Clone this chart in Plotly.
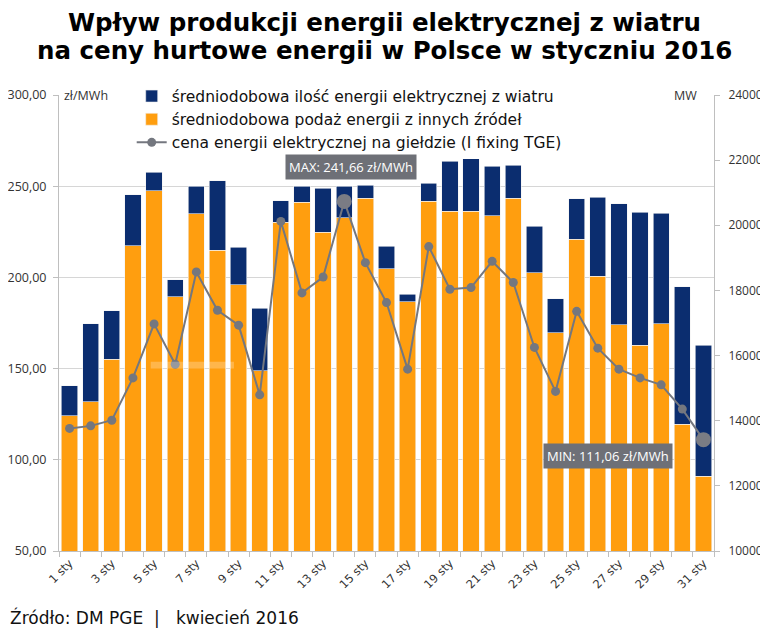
import plotly.graph_objects as go

# ---- data ----
days = list(range(1, 32))
tick_days = [1, 3, 5, 7, 9, 11, 13, 15, 17, 19, 21, 23, 25, 27, 29, 31]
tick_labels = ["1 sty", "3 sty", "5 sty", "7 sty", "9 sty", "11 sty", "13 sty", "15 sty",
               "17 sty", "19 sty", "21 sty", "23 sty", "25 sty", "27 sty", "29 sty", "31 sty"]

other_mw = [14149, 14579, 15888, 19375, 21062, 17799, 20357, 19240, 18167, 15529,
            20099, 20703, 19792, 20234, 20826, 18670, 17646, 20743, 20436, 20436,
            20295, 20826, 18547, 16695, 19578, 18443, 16940, 16318, 16971, 13895, 12300]
wind_mw = [920, 2392, 1482, 1564, 571, 534, 846, 2129, 1165, 1923,
           656, 500, 1350, 969, 408, 684, 236, 552, 1525, 1657,
           1522, 1012, 1430, 1055, 1239, 2423, 3723, 4088, 3404, 4223, 4018]
price = [117.2, 118.6, 121.7, 144.9, 174.5, 152.4, 203.0, 182.0, 173.8, 135.6,
         230.7, 191.5, 200.2, 241.66, 208.1, 186.2, 149.7, 216.9, 193.5, 194.4,
         208.8, 197.2, 161.6, 137.5, 181.4, 161.2, 149.7, 144.9, 141.1, 127.8, 111.06]

title_lines = ["Wpływ produkcji energii elektrycznej z wiatru",
               "na ceny hurtowe energii w Polsce w styczniu 2016"]
source_text = "Źródło: DM PGE &nbsp;| &nbsp; kwiecień 2016"

ORANGE = "#FF9E0F"
NAVY = "#0B2D6F"
GREY_LINE = "#74777F"
AXIS = "#BFBFBF"
TXT = "#333333"

imax = price.index(max(price))
imin = price.index(min(price))

fig = go.Figure()
fig.add_trace(go.Bar(
    x=days, y=other_mw, name="średniodobowa podaż energii z innych źródeł",
    marker=dict(color=ORANGE, line=dict(width=0.6, color="#F2F2F2")),
    yaxis="y", legendrank=2))
fig.add_trace(go.Bar(
    x=days, y=wind_mw, name="średniodobowa ilość energii elektrycznej z wiatru",
    marker=dict(color=NAVY, line=dict(width=0.6, color="#F2F2F2")),
    yaxis="y", legendrank=1))
fig.add_trace(go.Scatter(
    x=days, y=price, name="cena energii elektrycznej na giełdzie (I fixing TGE)",
    mode="lines+markers", line=dict(color=GREY_LINE, width=2),
    marker=dict(color=GREY_LINE, size=9), yaxis="y2", legendrank=3))
fig.add_trace(go.Scatter(
    x=[days[imax], days[imin]], y=[price[imax], price[imin]],
    mode="markers", marker=dict(color="#7A7C84", size=15),
    yaxis="y2", showlegend=False, hoverinfo="skip"))

def fmt(v):
    return f"{v:.2f}".replace(".", ",")

box = dict(showarrow=False, bgcolor="#6E7077", borderpad=3,
           font=dict(family="Open Sans", size=13, color="white"))
fig.add_annotation(x=days[imax], y=price[imax], xref="x", yref="y2",
                   text=f"MAX: {fmt(price[imax])} zł/MWh", xshift=7, yshift=34, **box)
fig.add_annotation(x=days[imin], y=price[imin], xref="x", yref="y2",
                   text=f"MIN: {fmt(price[imin])} zł/MWh", xshift=-95, yshift=-16, **box)

# title (two centred lines)
for txt, yp in zip(title_lines, [1.1588, 1.0975]):
    fig.add_annotation(x=0.4977, y=yp, xref="paper", yref="paper", xanchor="center", yanchor="middle",
                       text=f"<b>{txt}</b>", showarrow=False,
                       font=dict(family="DejaVu Sans", size=24.5, color="black"))

# axis unit labels
fig.add_annotation(x=0.005, y=1.0, xref="paper", yref="paper", xanchor="left", yanchor="middle",
                   text="zł/MWh", showarrow=False, bgcolor="white",
                   font=dict(family="Open Sans", size=12.5, color=TXT))
fig.add_annotation(x=0.977, y=1.0, xref="paper", yref="paper", xanchor="right", yanchor="middle",
                   text="MW", showarrow=False, bgcolor="white",
                   font=dict(family="Open Sans", size=12.5, color=TXT))

# source line
fig.add_annotation(x=-0.0779, y=-0.1468, xref="paper", yref="paper", xanchor="left", yanchor="middle",
                   text=source_text, showarrow=False,
                   font=dict(family="DejaVu Sans", size=17, color="#111111"))

# faint light smear visible in the reference
fig.add_shape(type="rect", xref="x", yref="y2", x0=4.84, x1=8.78, y0=150.05, y1=153.7,
              fillcolor="rgba(255,255,255,0.25)", line=dict(width=0), layer="above")

fig.update_layout(
    width=760, height=625,
    margin=dict(l=51, r=54, t=86.5, b=82, autoexpand=False),
    paper_bgcolor="white", plot_bgcolor="white",
    separators=", ",
    barmode="stack", bargap=0.23,
    legend=dict(x=0.111, y=1.034, xanchor="left", yanchor="top", bgcolor="white",
                traceorder="normal", font=dict(family="DejaVu Sans", size=15.5, color="#111111"),
                itemclick=False),
    xaxis=dict(range=[0.5, 31.5], tickmode="array", tickvals=tick_days, ticktext=tick_labels,
               tickangle=-45, ticks="", showline=True, linecolor=AXIS, showgrid=False,
               automargin=False,
               tickfont=dict(family="DejaVu Sans", size=11.5, color=TXT),
               minor=dict(tick0=0.5, dtick=1, ticks="outside", ticklen=5, tickcolor=AXIS, showgrid=False)),
    yaxis=dict(side="right", range=[10000, 24000], dtick=2000, tickformat="d",
               showgrid=False, showline=True, linecolor=AXIS, ticks="outside", ticklen=5,
               tickcolor=AXIS, zeroline=False, ticklabelstandoff=6, automargin=False,
               tickfont=dict(family="Open Sans", size=12, color=TXT)),
    yaxis2=dict(side="left", overlaying="y", range=[50, 300], dtick=50, tickformat=".2f",
                showgrid=True, gridcolor="#D6D6D6", showline=True, linecolor=AXIS,
                ticks="outside", ticklen=5, tickcolor=AXIS, zeroline=False, ticklabelstandoff=4,
                automargin=False,
                tickfont=dict(family="Open Sans", size=12.5, color=TXT)),
    showlegend=True,
)

fig.write_html("out.html")
